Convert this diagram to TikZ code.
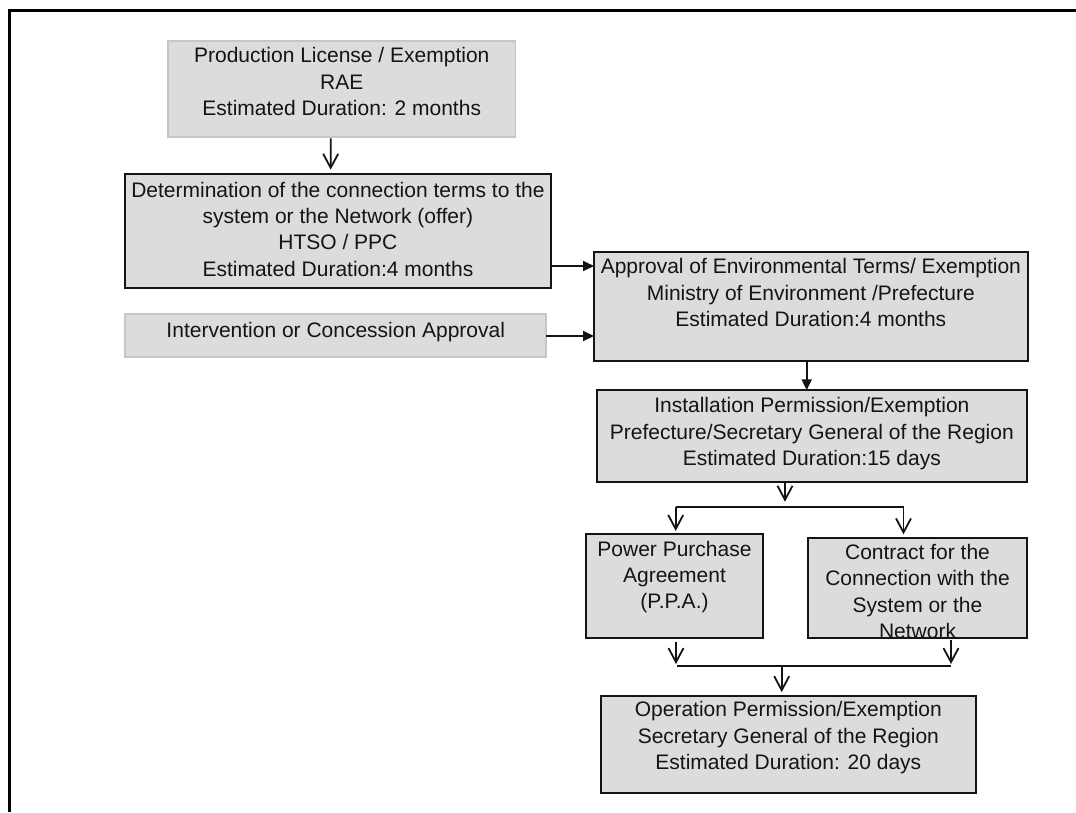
\documentclass[tikz,border=0pt]{standalone}
\usepackage{fontspec}
\setmainfont{Liberation Sans}
\usetikzlibrary{arrows.meta,calc}

\definecolor{boxfill}{HTML}{DCDCDC}
\definecolor{paleline}{HTML}{C6C6C6}
\definecolor{ink}{HTML}{141414}

\tikzset{
  stagebox/.style={draw=ink, fill=boxfill, line width=1.8pt, rectangle,
    inner sep=0pt, outer sep=0pt, anchor=north west},
  palebox/.style={stagebox, draw=paleline},
  stagetext/.style={anchor=north, inner sep=0pt, align=center, text=ink,
    font=\fontsize{21}{26.3}\selectfont},
  conn/.style={draw=ink, line width=1.8pt},
  openarr/.style={conn, -{Straight Barb[length=14pt,width=15pt]}},
  fillarr/.style={conn, -{Triangle[length=11pt,width=10pt]}}
}

\begin{document}
\begin{tikzpicture}[x=1pt, y=-1pt]
\useasboundingbox (0,0) rectangle (1076,812);
\fill[white] (0,0) rectangle (1076,812);

% outer frame (top and left edges)
\draw[line width=3.6pt, line join=miter] (9.3,812) -- (9.3,10.5) -- (1076,10.5);

% stage boxes
\node[palebox, minimum width=347.5pt, minimum height=96pt] (b1) at (168,40.7) {};
\node[stagebox, minimum width=425.8pt, minimum height=114.6pt] (b2) at (125,173.7) {};
\node[palebox, minimum width=420.9pt, minimum height=43pt] (b3) at (125.3,314.3) {};
\node[stagebox, minimum width=433.7pt, minimum height=109.3pt] (b4) at (594,251.7) {};
\node[stagebox, minimum width=429.7pt, minimum height=91.7pt] (b5) at (597,390.3) {};
\node[stagebox, minimum width=177.6pt, minimum height=104pt] (b6) at (585.7,534.3) {};
\node[stagebox, minimum width=218.4pt, minimum height=100.6pt] (b7) at (808.3,537.7) {};
\node[stagebox, minimum width=375.3pt, minimum height=97pt] (b8) at (600.7,695.7) {};

% box texts, top aligned
\node[stagetext] (t1) at ($(b1.north)+(0,6.7)$)
  {Production License / Exemption\\RAE\\Estimated Duration: 2 months};
\node[stagetext] (t2) at ($(b2.north)+(0,8)$)
  {Determination of the connection terms to the\\system or the Network (offer)\\HTSO / PPC\\Estimated Duration:4 months};
\node[stagetext] (t3) at ($(b3.north)+(0,8.1)$)
  {Intervention or Concession Approval};
\node[stagetext] (t4) at ($(b4.north)+(0,6.7)$)
  {Approval of Environmental Terms/ Exemption\\Ministry of Environment /Prefecture\\Estimated Duration:4 months};
\node[stagetext] (t5) at ($(b5.north)+(0,7.2)$)
  {Installation Permission/Exemption\\Prefecture/Secretary General of the Region\\Estimated Duration:15 days};
\node[stagetext] (t6) at ($(b6.north)+(0,6.4)$)
  {Power Purchase\\Agreement\\(P.P.A.)};
\node[stagetext] (t7) at ($(b7.north)+(0,6.4)$)
  {Contract for the\\Connection with the\\System or the\\Network};
\node[stagetext] (t8) at ($(b8.north)+(0,5.7)$)
  {Operation Permission/Exemption\\Secretary General of the Region\\Estimated Duration: 20 days};

% upper chain
\draw[openarr] ($(b1.south)+(-11.05,1.6)$) -- ($(b2.north)+(-7.25,-4)$);
\draw[fillarr] ($(b2.north east)+(0,92.3)$) -- ($(b4.north west)+(0,14.3)$);
\draw[fillarr] ($(b3.north east)+(0,21.7)$) -- ($(b4.north west)+(0,84.3)$);
\draw[fillarr] ($(b4.south)+(-4.15,0)$) -- ($(b5.north)+(-5.15,0)$);

% split towards the two contracts
\coordinate (splittip) at (785,501.7);
\coordinate (splitl) at (675.7,506.7);
\coordinate (splitr) at (903.5,506.7);
\draw[openarr] ($(b5.south)+(-26.85,0.3)$) -- (splittip);
\draw[conn] (splitl) -- (splitr);
\draw[openarr] (splitl) -- ($(b6.north)+(1.2,-3.4)$);
\draw[openarr] (splitr) -- ($(b7.north)+(-14,-3.4)$);

% merge towards the operation permission
\coordinate (mergel) at (677,666);
\coordinate (merger) at (951,666);
\coordinate (mergetipl) at (676,664);
\coordinate (mergetipr) at (951,664);
\draw[openarr] ($(b6.south)+(1.5,3.4)$) -- (mergetipl);
\draw[openarr] ($(b7.south)+(33.5,1.7)$) -- (mergetipr);
\draw[conn] (mergel) -- (merger);
\draw[openarr] ($(b8.north)+(-6.65,-29.7)$) -- ($(b8.north)+(-6.65,-3.6)$);
\end{tikzpicture}
\end{document}
